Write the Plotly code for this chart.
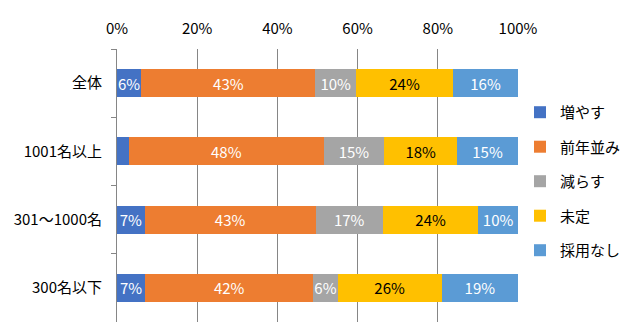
import plotly.graph_objects as go

# Survey: planned hiring compared with the previous year, by company size
categories = ["全体", "1001名以上", "301～1000名", "300名以下"]

series_names = ["増やす", "前年並み", "減らす", "未定", "採用なし"]
increase = [6, 3, 7, 7]
same = [43, 48, 43, 42]
decrease = [10, 15, 17, 6]
undecided = [24, 18, 24, 26]
no_hiring = [16, 15, 10, 19]

x_ticks = [0, 20, 40, 60, 80, 100]
x_tick_labels = ["0%", "20%", "40%", "60%", "80%", "100%"]

series_values = [increase, same, decrease, undecided, no_hiring]
colors = ["#4472C4", "#ED7D31", "#A5A5A5", "#FFC000", "#5B9BD5"]
text_colors = ["white", "white", "white", "black", "white"]

FONT = "Noto Sans CJK JP, Meiryo, sans-serif"
FS = 15

fig = go.Figure()
for name, vals, col, tcol in zip(series_names, series_values, colors, text_colors):
    # segments too narrow for a label stay unlabeled
    labels = [f"{v}%" if v >= 5 else "" for v in vals]
    fig.add_trace(go.Bar(
        name=name,
        y=categories,
        x=vals,
        orientation="h",
        marker=dict(color=col, line=dict(width=0)),
        text=labels,
        textposition="inside",
        insidetextanchor="middle",
        textangle=0,
        textfont=dict(color=tcol, size=FS, family=FONT),
        legendgroup=name,
        hoverinfo="skip",
    ))

fig.update_layout(
    width=644,
    height=324,
    barmode="stack",
    barnorm="percent",
    bargap=0.59,
    paper_bgcolor="white",
    plot_bgcolor="white",
    margin=dict(l=117, r=126, t=49, b=2),
    font=dict(family=FONT, size=FS, color="#000000"),
    uniformtext=dict(minsize=FS, mode="show"),
    legend=dict(
        x=1.005, xanchor="left",
        y=0.828, yanchor="top",
        traceorder="grouped",
        tracegroupgap=12,
        font=dict(size=FS, family=FONT, color="#000000"),
        bgcolor="rgba(0,0,0,0)",
    ),
    xaxis=dict(
        side="top",
        range=[0, 100],
        tickvals=x_ticks,
        ticktext=x_tick_labels,
        showgrid=True,
        gridcolor="#868686",
        gridwidth=1,
        zeroline=False,
        showline=False,
        ticks="",
        ticklabelstandoff=11,
        tickfont=dict(size=FS, family=FONT, color="#000000"),
        fixedrange=True,
    ),
    yaxis=dict(
        autorange="reversed",
        type="category",
        showline=True,
        linecolor="#868686",
        linewidth=1,
        ticks="outside",
        tickson="boundaries",
        ticklen=5,
        tickcolor="#868686",
        showgrid=False,
        ticklabelstandoff=11,
        tickfont=dict(size=FS, family=FONT, color="#000000"),
        fixedrange=True,
    ),
)

fig.write_html("out.html")
